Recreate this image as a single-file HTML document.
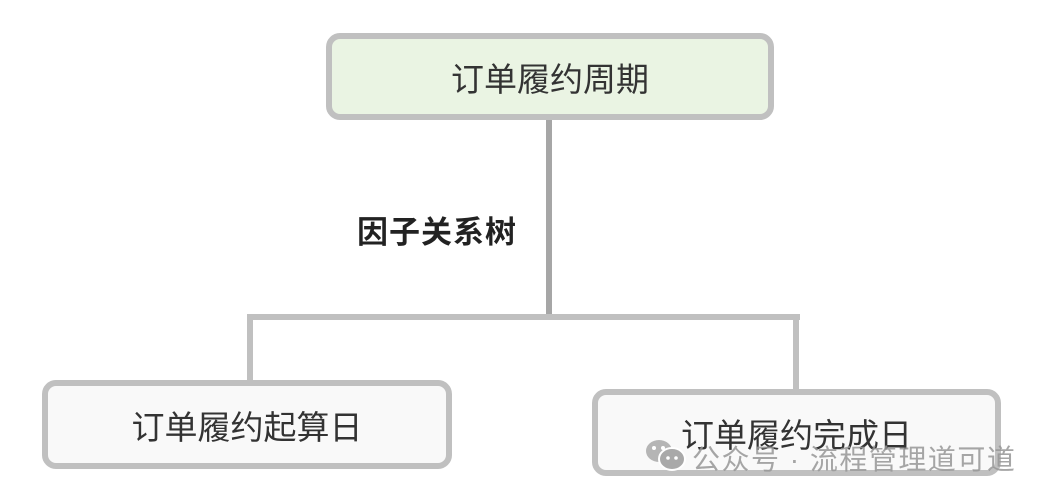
<!DOCTYPE html>
<html><head><meta charset="utf-8"><style>
body{margin:0;width:1046px;height:498px;background:#fff;position:relative;overflow:hidden;font-family:"Liberation Sans","Noto Sans CJK SC",sans-serif;}
.box{position:absolute;box-sizing:border-box;border:6px solid #c0c0c0;border-radius:14px;display:flex;align-items:center;justify-content:center;color:#333;font-size:33px;}
.t{position:absolute;white-space:nowrap;}
</style></head><body>
<svg width="1046" height="498" style="position:absolute;left:0;top:0">
<line x1="549" y1="118" x2="549" y2="318" stroke="#a6a6a6" stroke-width="6"/>
<line x1="247" y1="317" x2="800" y2="317" stroke="#c0c0c0" stroke-width="6"/>
<line x1="250" y1="314" x2="250" y2="384" stroke="#c0c0c0" stroke-width="6"/>
<line x1="796" y1="314" x2="796" y2="392" stroke="#c0c0c0" stroke-width="6"/>
</svg>
<div class="box" style="left:326px;top:33px;width:448px;height:87px;background:#eaf4e3;">订单履约周期</div>
<div class="box" style="left:42px;top:380px;width:410px;height:89px;background:#f9f9f9;">订单履约起算日</div>
<div class="box" style="left:592px;top:389px;width:409px;height:87px;background:#f9f9f9;">订单履约完成日</div>
<div class="t" style="left:357px;top:207px;font-size:31px;letter-spacing:1px;font-weight:bold;color:#222;">因子关系树</div>
<svg width="44" height="36" style="position:absolute;left:644px;top:437px">
<ellipse cx="15" cy="14" rx="13" ry="11" fill="#b5b5b5"/>
<ellipse cx="28" cy="22" rx="13" ry="11" fill="#a9a9a9" stroke="#fff" stroke-width="2"/>
<circle cx="10" cy="11" r="2" fill="#fff"/><circle cx="19" cy="11" r="2" fill="#fff"/>
<circle cx="24" cy="21" r="1.8" fill="#fff"/><circle cx="32" cy="21" r="1.8" fill="#fff"/>
</svg>
<div class="t" style="left:692px;top:438px;font-size:28px;letter-spacing:1.5px;color:rgba(150,150,150,0.85);">公众号 · 流程管理道可道</div>
</body></html>
